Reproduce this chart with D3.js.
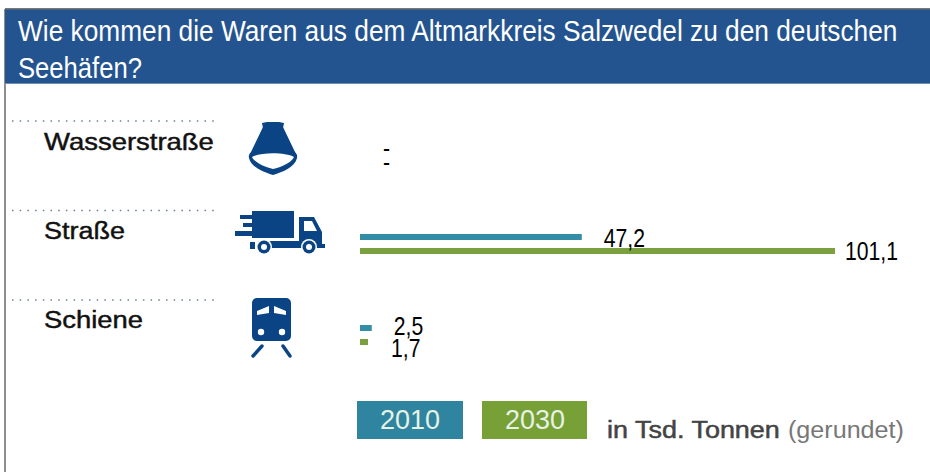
<!DOCTYPE html>
<html><head><meta charset="utf-8">
<script src="https://cdn.jsdelivr.net/npm/d3@7"></script>
<style>html,body{margin:0;padding:0;background:#fff;overflow:hidden}svg{display:block}text{font-family:"Liberation Sans",Arial,sans-serif}</style>
</head><body><svg id="c" width="930" height="472"></svg>
<script>
const titleLines = ["Wie kommen die Waren aus dem Altmarkkreis Salzwedel zu den deutschen", "Seehäfen?"];
const categories = ["Wasserstraße", "Straße", "Schiene"];
const years = ["2010", "2030"];
const values2010 = [null, 47.2, 2.5];
const values2030 = [null, 101.1, 1.7];
const unitBold = "in Tsd. Tonnen";
const unitLight = "(gerundet)";
const colors = ["#348da6", "#7ba03f"];
const legendColors = ["#2f84a0", "#77a036"];
const navy = "#0a4484";

const svg = d3.select("#c");
const fmt = v => v === null ? "-" : String(v).replace(".", ",");
const x = d3.scaleLinear().domain([0, 101.1]).range([360, 835]);
const yBar = d3.scalePoint().domain(categories).range([143, 325]);
const yDots = d3.scalePoint().domain(categories).range([121, 300]);
const yLabel = d3.scalePoint().domain(categories).range([150, 328]);
const series = [values2010, values2030];
const barH = 6, seriesGap = 14;

// frame + header
svg.append("rect").attr("x",4).attr("y",9).attr("width",2).attr("height",463).attr("fill","#8f8f8f");
svg.append("rect").attr("x",5).attr("y",9).attr("width",925).attr("height",75).attr("fill","#24548f");
svg.append("rect").attr("x",5).attr("y",8).attr("width",925).attr("height",1.5).attr("fill","#777");
svg.append("rect").attr("x",5).attr("y",83).attr("width",925).attr("height",1).attr("fill","#6f8fb5");
// squeeze a text horizontally to a target width
function fitText(sel, px, py, w){
  const n = sel.node().getComputedTextLength();
  sel.attr("transform",`translate(${px},${py}) scale(${w/n},1)`);
}
[[41,880],[78,124]].forEach(([y,w],i)=>{
  const t = svg.append("text").attr("fill","#fff").attr("font-size",29.5).text(titleLines[i]);
  fitText(t,18,y,w);
});

// rows
const labelWidth = {"Wasserstraße":170,"Straße":81,"Schiene":99};
const rowG = svg.selectAll("g.row").data(categories).join("g").attr("class","row");
rowG.append("line").attr("x1",12).attr("x2",218)
  .attr("y1",c=>yDots(c)).attr("y2",c=>yDots(c))
  .attr("stroke","#6d7f90").attr("stroke-width",1.5).attr("stroke-dasharray","1.5 6.2");
rowG.append("text").attr("font-size",24).attr("stroke","#111").attr("stroke-width",0.45)
  .attr("fill","#111").text(c=>c)
  .each(function(c){ fitText(d3.select(this),44,yLabel(c),labelWidth[c]); });

// bars
series.forEach((vals,s)=>{
  const rows = categories.map((c,i)=>({c, v:vals[i]})).filter(d=>d.v!==null);
  svg.selectAll("rect.b"+s).data(rows).join("rect").attr("class","b"+s)
    .attr("x",x(0)).attr("width",d=>x(d.v)-x(0))
    .attr("y",d=>yBar(d.c)+s*seriesGap).attr("height",barH).attr("fill",colors[s]);
});
// value labels: [dx from bar end, dy from bar top]
const labelOffset = {
 "Wasserstraße":[[23,14],[23,14]],
 "Straße":[[22,13],[10,12]],
 "Schiene":[[22,10],[23,18]]
};
series.forEach((vals,s)=>{
  categories.forEach((c,i)=>{
    const [dx,dy]=labelOffset[c][s];
    const lx=x(vals[i]===null?0:vals[i])+dx, ly=yBar(c)+s*seriesGap+dy;
    svg.append("text").attr("fill","#000")
      .attr("transform",`translate(${lx},${ly}) scale(0.8,1)`).attr("font-size",26.5).text(fmt(vals[i]));
  });
});

// icons
const ship = svg.append("g").attr("transform","translate(273,148)").attr("fill",navy);
ship.append("path").attr("d","M-10,-20 L-11,-25 L-6,-26 H6 L11,-25 L10,-20 Z");
ship.append("path").attr("d","M-10,-21 H10 L22,4 C24,6 24.5,8 24,10 C22,19 10,24 0,27 C-10,24 -22,19 -24,10 C-24.5,8 -24,6 -22,4 Z");
ship.append("path").attr("fill","#fff").attr("d","M-21,9 C-12,4 12,4 21,9 C18,15 8,19 0,21 C-8,19 -18,15 -21,9 Z");

const truck = svg.append("g").attr("fill",navy);
truck.append("path").attr("d","M252,211 H294 V238 H252 Z");
truck.append("rect").attr("x",240).attr("y",215).attr("width",17).attr("height",4);
truck.append("rect").attr("x",243).attr("y",223).attr("width",14).attr("height",4);
truck.append("rect").attr("x",235).attr("y",231).attr("width",20).attr("height",5);
truck.append("path").attr("fill-rule","evenodd").attr("d","M299,217 H314 L322,232 V244 H325 V248 H258 V241 H299 Z M304,221 V231 H317 L312,221 Z");
truck.append("rect").attr("x",250).attr("y",242).attr("width",5).attr("height",7);
[[264,247],[309,247]].forEach(([cx,cy])=>{
  truck.append("circle").attr("cx",cx).attr("cy",cy).attr("r",8).attr("fill","#fff");
  truck.append("circle").attr("cx",cx).attr("cy",cy).attr("r",6.5).attr("fill",navy);
  truck.append("circle").attr("cx",cx).attr("cy",cy).attr("r",3).attr("fill","#fff");
});

const train = svg.append("g").attr("fill",navy);
train.append("rect").attr("x",252).attr("y",298).attr("width",39).attr("height",43).attr("rx",5);
train.append("path").attr("fill","#fff").attr("d","M257,311 L269,306 V313 L257,315 Z M286,311 L274,306 V313 L286,315 Z");
train.append("circle").attr("cx",261).attr("cy",332).attr("r",3.2).attr("fill","#fff");
train.append("circle").attr("cx",282).attr("cy",332).attr("r",3.2).attr("fill","#fff");
train.append("path").attr("fill","none").attr("stroke",navy).attr("stroke-width",3.4).attr("stroke-linecap","round")
  .attr("d","M262,346 L253,356 M283,346 L290,356");

// legend
const legendX = d3.scalePoint().domain(years).range([357,482]);
const lg = svg.selectAll("g.lg").data(years).join("g").attr("class","lg");
lg.append("rect").attr("x",y=>legendX(y)).attr("y",401).attr("width",y=>y==="2010"?106:105).attr("height",38)
  .attr("fill",(y,i)=>legendColors[i]);
lg.append("text").attr("x",y=>legendX(y)+53).attr("y",429).attr("text-anchor","middle")
  .attr("font-size",27).attr("fill","#e6f2e4").text(y=>y);
fitText(svg.append("text").attr("font-size",23).attr("fill","#444")
  .attr("stroke","#444").attr("stroke-width",0.5).text(unitBold),607,438,173);
fitText(svg.append("text").attr("font-size",23).attr("fill","#777").text(unitLight),788,438,116);
</script></body></html>
